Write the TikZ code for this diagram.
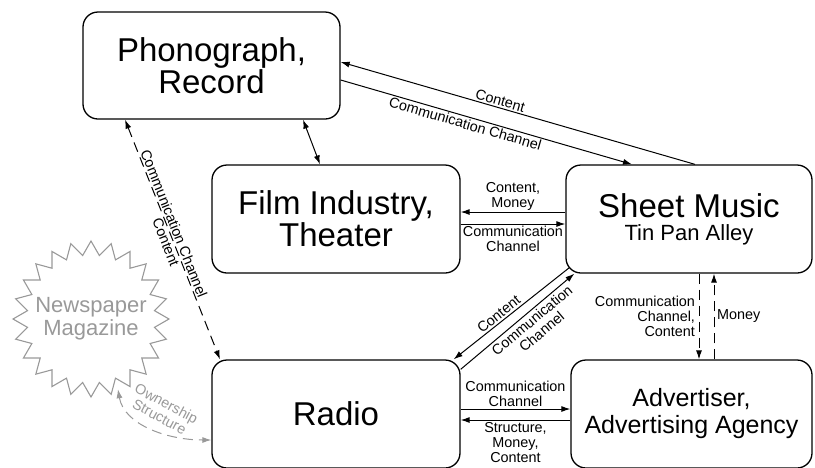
\documentclass[tikz,border=0pt]{standalone}
\usepackage{fontspec}
\setmainfont{Liberation Sans}
\usepackage{tikz}
\usetikzlibrary{arrows.meta,calc}

\definecolor{newsgray}{gray}{0.6}
\newcommand{\bigtxt}{\fontsize{33}{32}\selectfont}
\newcommand{\midtxt}{\fontsize{25}{27}\selectfont}
\newcommand{\subtxt}{\fontsize{22}{23}\selectfont}
\newcommand{\lbltxt}{\fontsize{14.4}{15}\selectfont}

\begin{document}
\begin{tikzpicture}[x=1pt,y=-1pt,
  >={Latex[length=9pt,width=6pt]},
  box/.style={draw, line width=1.3pt, rounded corners=15pt, align=center, inner sep=0pt},
  conn/.style={line width=1pt, ->},
  dconn/.style={conn, dash pattern=on 10pt off 6pt},
  lbl/.style={font=\lbltxt, align=center, inner sep=1.5pt}]
\useasboundingbox (0,0) rectangle (815,467);

% boxes
\node[box, minimum width=257pt, minimum height=107pt, font=\bigtxt] (phono) at (211.5,65.5) {Phonograph,\\Record};
\node[box, minimum width=248pt, minimum height=108pt, font=\bigtxt] (film) at (336,219) {Film Industry,\\Theater};
\node[box, minimum width=246pt, minimum height=108pt, font=\subtxt] (sheet) at (689,219) {{\bigtxt Sheet Music}\\Tin Pan Alley};
\node[box, minimum width=248pt, minimum height=108pt, font=\bigtxt] (radio) at (336,414) {Radio};
\node[box, minimum width=241pt, minimum height=108pt, font=\midtxt] (adv) at (691.5,414) {Advertiser,\\Advertising Agency};

% newspaper star
\node[circle, minimum size=150pt, inner sep=0pt, font=\subtxt, text=newsgray, align=center] (news) at (91,319) {Newspaper\\Magazine};
\draw[newsgray, line width=1.1pt] ($(news.center)+(90:78)$)
  \foreach \i in {1,...,47} { -- ($(news.center)+({90+7.5*\i}:{64+14*mod(\i+1,2)})$) } -- cycle;

% phonograph <-> sheet music
\draw[conn] ([xshift=6pt]sheet.north) -- ([yshift=3.5pt]phono.east)
  node[lbl, sloped, pos=0.555, above] {Content};
\draw[conn] ([yshift=-14.5pt]phono.east) -- ([xshift=-57pt]sheet.north)
  node[lbl, sloped, pos=0.435, below] {Communication Channel};

% phonograph <-> film
\draw[line width=1pt, <->] ([xshift=91.5pt]phono.south) -- ([xshift=-16pt]film.north);

% phonograph <-> radio
\draw[dconn, <->] ([xshift=-86.5pt]phono.south) -- ([xshift=-116pt]radio.north)
  node[lbl, sloped, pos=0.445, above] {Communication Channel}
  node[lbl, sloped, pos=0.5, below] {Content};

% film <-> sheet music
\draw[conn] ([yshift=7pt]sheet.west) -- ([yshift=7pt]film.east)
  node[lbl, midway, above] {Content,\\Money};
\draw[conn] ([yshift=-5pt]film.east) -- ([yshift=-5pt]sheet.west)
  node[lbl, midway, below] {Communication\\Channel};

% sheet music <-> radio
\draw[conn] ([shift={(4pt,6pt)}]sheet.south west) -- ([xshift=-7pt]radio.north east)
  node[lbl, sloped, pos=0.57, above, inner sep=2pt] {Content};
\draw[conn] ([yshift=-10pt]radio.north east) -- ([xshift=9pt]sheet.south west)
  node[lbl, sloped, pos=0.58, below, inner sep=2.5pt] {Communication\\Channel};

% sheet music <-> advertiser
\draw[dconn] ([xshift=10pt]sheet.south) -- ([xshift=7.5pt]adv.north)
  node[lbl, midway, left, align=right, xshift=-2pt] {Communication\\Channel,\\Content};
\draw[dconn] ([xshift=22.5pt]adv.north) -- ([xshift=25pt]sheet.south)
  node[lbl, midway, right, xshift=1pt] {Money};

% radio <-> advertiser
\draw[conn] ([yshift=5pt]radio.east) -- ([yshift=5pt]adv.west)
  node[lbl, midway, above] {Communication\\Channel};
\draw[conn] ([yshift=-6pt]adv.west) -- ([yshift=-6pt]radio.east)
  node[lbl, midway, below] {Structure,\\Money,\\Content};

% ownership
\draw[newsgray, line width=1pt, dash pattern=on 10pt off 6pt, <->] (news.-69)
  .. controls +(6,35) and +(-45,0) .. ([yshift=-26pt]radio.west);
\node[font=\lbltxt, text=newsgray, align=center, rotate=-28] (ownlbl) at (163,410) {Ownership\\Structure};
\end{tikzpicture}
\end{document}
